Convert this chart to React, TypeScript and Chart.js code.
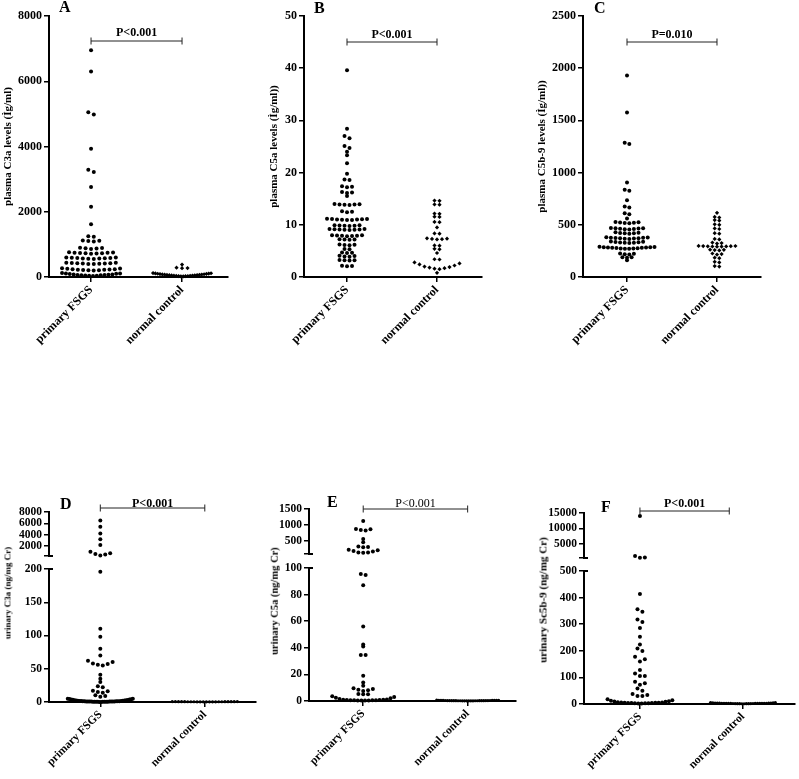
import React, { useEffect, useRef } from 'react';
import { Chart, registerables } from 'chart.js';

Chart.register(...registerables);

const FONT = '"Liberation Serif", "Times New Roman", Times, serif';
const CATEGORIES = ['primary FSGS', 'normal control'];

// ---- Panel A: plasma C3a ----
const A_PRIMARY = [6950, 6300, 5050, 4980, 3930, 3290, 3220, 2760, 2150, 1620,
  1230, 1250, 1090, 1100, 1110, 1120, 860, 870, 880, 890, 900,
  715, 720, 725, 730, 735, 740, 745, 750, 755,
  555, 560, 565, 570, 575, 580, 585, 590, 595, 600,
  395, 400, 405, 410, 415, 420, 425, 430, 435, 440,
  200, 205, 210, 215, 220, 225, 230, 235, 240, 250, 260, 270,
  30, 35, 40, 45, 50, 55, 60, 65, 70, 75, 80, 90, 100, 105, 110, 120];
const A_CONTROL = [380, 270, 275, 285,
  20, 22, 25, 28, 30, 33, 36, 40, 44, 48, 52, 56, 60, 64, 68, 72, 76, 80, 85, 90, 95, 100, 105, 110, 115, 120];
const A_TICKS = [0, 2000, 4000, 6000, 8000];

// ---- Panel B: plasma C5a ----
const B_PRIMARY = [39.6, 28.4, 26.6, 27.0, 24.7, 25.1, 24.0, 23.3, 21.8, 19.8, 18.6, 18.7,
  17.2, 17.3, 17.4, 16.1, 16.2, 16.3, 15.5,
  13.8, 13.85, 13.9, 13.9, 13.95, 14.0, 12.4, 12.5, 12.6,
  10.9, 10.9, 10.95, 11.0, 11.0, 11.05, 11.1, 11.1, 11.15,
  9.75, 9.8, 9.8, 9.85, 9.9, 9.9,
  9.0, 9.05, 9.05, 9.1, 9.1, 9.15, 9.2, 9.2,
  7.8, 7.85, 7.9, 7.9, 7.95, 8.0, 8.0, 7.15, 7.2, 7.2, 7.25,
  6.1, 6.15, 6.2, 6.25, 5.3, 5.35, 4.6, 4.65, 4.7, 3.9, 3.95, 4.0, 4.05,
  3.15, 3.2, 3.2, 3.25, 2.05, 2.1, 2.15];
const B_CONTROL = [14.6, 14.65, 13.85, 13.9, 12.1, 12.15, 11.5, 11.55, 10.5, 10.55, 9.5,
  8.3, 8.35, 7.2, 7.25, 7.3, 7.35, 7.4, 6.0, 6.05, 5.3, 5.4, 4.6, 3.35, 3.4,
  1.5, 1.6, 1.7, 1.8, 1.9, 2.0, 2.2, 2.4, 2.6, 2.8, 0.8];
const B_TICKS = [0, 10, 20, 30, 40, 50];

// ---- Panel C: plasma C5b-9 ----
const C_PRIMARY = [1930, 1575, 1275, 1285, 905, 825, 835, 735, 665, 675, 600, 610, 560,
  515, 518, 520, 522, 525, 528,
  455, 458, 460, 462, 464, 466, 468, 470,
  415, 418, 420, 422, 425, 428,
  365, 367, 369, 370, 371, 373, 375, 377, 379, 381,
  325, 327, 329, 331, 333, 335, 337, 339,
  270, 271, 273, 274, 276, 277, 279, 280, 282, 283, 285, 286, 288, 290,
  215, 218, 222, 225, 185, 188, 190, 160];
const C_CONTROL = [615, 570, 575, 540, 545, 500, 505, 460, 465, 415, 420, 360, 365,
  320, 325, 330, 290, 291, 292, 293, 294, 295, 296, 297, 298,
  255, 258, 260, 262, 215, 220, 225, 180, 185, 140, 145, 100, 105];
const C_TICKS = [0, 500, 1000, 1500, 2000, 2500];

// ---- Panel D: urinary C3a (broken axis) ----
const D_PRIMARY = [6500, 5400, 4200, 3190, 2130, 300, 450, 550, 700, 950,
  196, 110, 98, 80, 70, 55, 56, 57, 58, 60, 62, 41, 35, 30, 22, 23.5,
  14, 15, 16, 17, 8, 9, 10,
  0.1, 0.1, 0.2, 0.2, 0.3, 0.3, 0.4, 0.4, 0.5, 0.5, 0.6, 0.6, 0.7, 0.7, 0.8, 0.8,
  0.9, 0.9, 1.0, 1.0, 1.1, 1.2, 1.3, 1.4, 1.5, 1.6, 1.8, 2.0, 2.2, 2.4, 2.6, 2.8,
  3.0, 3.3, 3.6, 3.9, 4.2, 4.5, 4.8, 5.0];
const D_CONTROL = [0.2, 0.2, 0.25, 0.25, 0.3, 0.3, 0.3, 0.35, 0.35, 0.4, 0.4,
  0.4, 0.45, 0.45, 0.5, 0.5, 0.5, 0.55, 0.55, 0.6, 0.6, 0.6];
const D_UPPER_TICKS = [200, 2000, 4000, 6000, 8000];
const D_LOWER_TICKS = [0, 50, 100, 150, 200];

// ---- Panel E: urinary C5a (broken axis) ----
const E_PRIMARY = [1130, 830, 845, 870, 880, 570, 465, 310, 320, 330,
  140, 145, 150, 180, 195, 220, 235,
  94.8, 95.5, 87, 56, 41, 42.5, 34.5, 34.5, 19, 14, 11.5,
  7.5, 8, 8.5, 9, 9.5, 5, 5, 5.2,
  0.3, 0.3, 0.4, 0.4, 0.5, 0.5, 0.6, 0.6, 0.7, 0.8, 0.9, 1.0, 1.2, 1.5, 2.0, 2.5, 3.0, 3.5];
const E_CONTROL = [0.1, 0.1, 0.12, 0.12, 0.15, 0.15, 0.18, 0.18, 0.2, 0.2, 0.22, 0.22,
  0.25, 0.25, 0.28, 0.28, 0.3, 0.3, 0.33, 0.33, 0.36, 0.36, 0.4, 0.4, 0.45, 0.45,
  0.5, 0.5, 0.55, 0.6];
const E_UPPER_TICKS = [100, 500, 1000, 1500];
const E_LOWER_TICKS = [0, 20, 40, 60, 80, 100];

// ---- Panel F: urinary Sc5b-9 (broken axis) ----
const F_PRIMARY = [14030, 600, 650, 1150,
  414, 347, 356, 308, 318, 286, 253, 224, 199, 209, 160, 168, 178, 128,
  105, 105, 115, 72, 78, 84, 50, 58, 30, 30, 34, 38,
  2, 2, 2.5, 3, 3, 3.5, 4, 4, 4.5, 5, 5, 6, 6, 7, 8, 9, 10, 12, 14, 18];
const F_CONTROL = [1, 1, 1.2, 1.2, 1.4, 1.4, 1.6, 1.6, 1.8, 1.8, 2, 2, 2, 2.2, 2.2,
  2.4, 2.4, 2.6, 2.6, 2.8, 2.8, 3, 3, 3.2, 3.5, 3.8, 4, 4.5, 5, 5.5];
const F_UPPER_TICKS = [500, 5000, 10000, 15000];
const F_LOWER_TICKS = [0, 100, 200, 300, 400, 500];

type Seg = {
  yMin: number; yMax: number; ticks: number[]; hideMin?: boolean;
  lo: number; hi: number; plotTop: number; plotBottom: number; gap: number; showX: boolean;
};
type Panel = {
  letter: string; left: number; top: number; width: number; height: number;
  plotLeft: number; plotRight: number; padLeft: number; xMin: number; xMax: number;
  primary: number[]; control: number[]; controlStyle: string; controlRadius: number;
  segs: Seg[]; title: string; htmlTitle?: { x: number; y: number; size: number };
  tickSize: number; letterX: number; letterBase: number;
  pText: string; pBold: boolean; pBase: number; bracketY: number; bracketTo: number;
  dx: number; maxW: number;
};

// GraphPad-style dot plot: values closer than `gap` share a row, spread horizontally
function swarm(values: number[], center: number, gap: number, dxPx: number, maxWPx: number, pxPerX: number) {
  const sorted = [...values].sort((a, b) => a - b);
  const rows: number[][] = [];
  let cur: number[] = [];
  for (const v of sorted) {
    if (cur.length && v - cur[cur.length - 1] >= gap) { rows.push(cur); cur = []; }
    cur.push(v);
  }
  if (cur.length) rows.push(cur);
  const pts: { x: number; y: number }[] = [];
  for (const row of rows) {
    const n = row.length;
    const step = n > 1 ? Math.min(dxPx, maxWPx / (n - 1)) : 0;
    const slots = Array.from({ length: n }, (_, k) => (k - (n - 1) / 2) * step);
    slots.sort((a, b) => Math.abs(a) - Math.abs(b) || b - a);
    row.forEach((v, i) => pts.push({ x: center + slots[i] / pxPerX, y: v }));
  }
  return pts;
}

const PANELS: Panel[] = [
  {
    letter: 'A', left: 0, top: 0, width: 260, height: 390, plotLeft: 49, plotRight: 228, padLeft: 0,
    xMin: 0.538, xMax: 2.505, primary: A_PRIMARY, control: A_CONTROL, controlStyle: 'rectRot', controlRadius: 2.1,
    segs: [{ yMin: 0, yMax: 8000, ticks: A_TICKS, lo: -Infinity, hi: Infinity, plotTop: 16, plotBottom: 277, gap: 80, showX: true }],
    title: 'plasma C3a levels (Ìg/ml)', tickSize: 12, letterX: 59, letterBase: 12,
    pText: 'P<0.001', pBold: true, pBase: 36, bracketY: 41, bracketTo: 2, dx: 5.5, maxW: 58,
  },
  {
    letter: 'B', left: 260, top: 0, width: 260, height: 390, plotLeft: 304, plotRight: 482, padLeft: 6,
    xMin: 0.522, xMax: 2.5, primary: B_PRIMARY, control: B_CONTROL, controlStyle: 'rectRot', controlRadius: 2.1,
    segs: [{ yMin: 0, yMax: 50, ticks: B_TICKS, lo: -Infinity, hi: Infinity, plotTop: 16, plotBottom: 277, gap: 0.5, showX: true }],
    title: 'plasma C5a levels (Ìg/ml))', tickSize: 12, letterX: 314, letterBase: 13,
    pText: 'P<0.001', pBold: true, pBase: 38, bracketY: 42, bracketTo: 2, dx: 5, maxW: 45,
  },
  {
    letter: 'C', left: 520, top: 0, width: 279, height: 390, plotLeft: 583, plotRight: 761, padLeft: 14,
    xMin: 0.511, xMax: 2.489, primary: C_PRIMARY, control: C_CONTROL, controlStyle: 'rectRot', controlRadius: 2.1,
    segs: [{ yMin: 0, yMax: 2500, ticks: C_TICKS, lo: -Infinity, hi: Infinity, plotTop: 16, plotBottom: 277, gap: 20, showX: true }],
    title: 'plasma C5b-9 levels (Ìg/ml))', tickSize: 12, letterX: 594, letterBase: 13,
    pText: 'P=0.010', pBold: true, pBase: 38, bracketY: 42, bracketTo: 2, dx: 4.6, maxW: 55,
  },
  {
    letter: 'D', left: 0, top: 390, width: 260, height: 389, plotLeft: 49, plotRight: 259, padLeft: 0,
    xMin: 0.509, xMax: 2.49, primary: D_PRIMARY, control: D_CONTROL, controlStyle: 'circle', controlRadius: 1.6,
    segs: [
      { yMin: 200, yMax: 8000, ticks: D_UPPER_TICKS, hideMin: true, lo: 200, hi: Infinity, plotTop: 512, plotBottom: 556, gap: 400, showX: false },
      { yMin: 0, yMax: 200, ticks: D_LOWER_TICKS, lo: -Infinity, hi: 200, plotTop: 569, plotBottom: 702, gap: 2.5, showX: true },
    ],
    title: 'urinary C3a (ng/mg Cr)', htmlTitle: { x: 8, y: 593, size: 9 }, tickSize: 11.5, letterX: 60, letterBase: 509,
    pText: 'P<0.001', pBold: true, pBase: 507, bracketY: 508, bracketTo: 2, dx: 5, maxW: 66,
  },
  {
    letter: 'E', left: 260, top: 390, width: 260, height: 389, plotLeft: 309, plotRight: 523, padLeft: 0,
    xMin: 0.481, xMax: 2.463, primary: E_PRIMARY, control: E_CONTROL, controlStyle: 'circle', controlRadius: 1.6,
    segs: [
      { yMin: 100, yMax: 1500, ticks: E_UPPER_TICKS, hideMin: true, lo: 100, hi: Infinity, plotTop: 509, plotBottom: 554, gap: 60, showX: false },
      { yMin: 0, yMax: 100, ticks: E_LOWER_TICKS, lo: -Infinity, hi: 100, plotTop: 568, plotBottom: 701, gap: 1.0, showX: true },
    ],
    title: 'urinary C5a (ng/mg Cr)', htmlTitle: { x: 275, y: 601, size: 10.5 }, tickSize: 11.5, letterX: 327, letterBase: 507,
    pText: 'P<0.001', pBold: false, pBase: 507, bracketY: 509, bracketTo: 2, dx: 5, maxW: 64,
  },
  {
    letter: 'F', left: 520, top: 390, width: 279, height: 389, plotLeft: 584, plotRight: 799, padLeft: 0,
    xMin: 0.457, xMax: 2.505, primary: F_PRIMARY, control: F_CONTROL, controlStyle: 'circle', controlRadius: 1.6,
    segs: [
      { yMin: 500, yMax: 15000, ticks: F_UPPER_TICKS, hideMin: true, lo: 500, hi: Infinity, plotTop: 513, plotBottom: 558, gap: 600, showX: false },
      { yMin: 0, yMax: 500, ticks: F_LOWER_TICKS, lo: -Infinity, hi: 500, plotTop: 571, plotBottom: 704, gap: 12, showX: true },
    ],
    title: 'urinary Sc5b-9 (ng/mg Cr)', htmlTitle: { x: 543, y: 600, size: 11 }, tickSize: 11.5, letterX: 601, letterBase: 512,
    pText: 'P<0.001', pBold: true, pBase: 507, bracketY: 511, bracketTo: 1.867, dx: 5, maxW: 66,
  },
];

const LAYERS = PANELS.flatMap((p) => p.segs.map((seg, idx) => ({ p, seg, idx })));

function makeChart(canvas: HTMLCanvasElement, p: Panel, seg: Seg, segIndex: number) {
  const pxPerX = (p.plotRight - p.plotLeft) / (p.xMax - p.xMin);
  const sel = (arr: number[]) => arr.filter((v) => v > seg.lo && v <= seg.hi);
  const prim = swarm(sel(p.primary), 1, seg.gap, p.dx, p.maxW, pxPerX);
  const ctrl = swarm(sel(p.control), 2, seg.gap, p.dx, p.maxW, pxPerX);
  const isTop = segIndex === 0;
  const isBroken = p.segs.length > 1;
  const yWidth = p.plotLeft - p.left - p.padLeft;
  const xHeight = p.top + p.height - seg.plotBottom;
  const tickFont = { family: FONT, size: p.tickSize, weight: 'bold' as const };

  const overlay = {
    id: 'overlay',
    afterDraw(chart: any) {
      const ctx = chart.ctx as CanvasRenderingContext2D;
      const area = chart.chartArea;
      ctx.save();
      if (isBroken) {
        const yy = isTop ? area.bottom : area.top;
        ctx.strokeStyle = '#000';
        ctx.lineWidth = 2;
        ctx.beginPath();
        ctx.moveTo(area.left - 1, yy);
        ctx.lineTo(area.left + 4, yy);
        ctx.stroke();
      }
      if (isTop) {
        const xs = chart.scales.x;
        const x1 = xs.getPixelForValue(1);
        const x2 = xs.getPixelForValue(p.bracketTo);
        const by = p.bracketY - p.top;
        ctx.strokeStyle = '#222';
        ctx.lineWidth = 1;
        ctx.beginPath();
        ctx.moveTo(x1, by); ctx.lineTo(x2, by);
        ctx.moveTo(x1, by - 3.5); ctx.lineTo(x1, by + 3.5);
        ctx.moveTo(x2, by - 3.5); ctx.lineTo(x2, by + 3.5);
        ctx.stroke();
        ctx.fillStyle = '#000';
        ctx.textAlign = 'center';
        ctx.textBaseline = 'alphabetic';
        ctx.font = `${p.pBold ? 'bold ' : ''}12px ${FONT}`;
        ctx.fillText(p.pText, (x1 + x2) / 2, p.pBase - p.top);
        ctx.textAlign = 'left';
        ctx.font = `bold 16px ${FONT}`;
        ctx.fillText(p.letter, p.letterX - p.left, p.letterBase - p.top);
      }
      ctx.restore();
    },
  };

  const config: any = {
    type: 'scatter',
    data: {
      datasets: [
        { label: CATEGORIES[0], data: prim, pointRadius: 2, pointBackgroundColor: '#000', pointBorderWidth: 0, showLine: false, clip: false },
        { label: CATEGORIES[1], data: ctrl, pointStyle: p.controlStyle, pointRadius: p.controlRadius, pointBackgroundColor: '#000', pointBorderWidth: 0, showLine: false, clip: false },
      ],
    },
    options: {
      responsive: false,
      maintainAspectRatio: false,
      devicePixelRatio: 1,
      animation: false,
      events: [],
      layout: {
        padding: {
          left: p.padLeft,
          top: seg.plotTop - p.top,
          right: p.left + p.width - p.plotRight,
          bottom: seg.showX ? 0 : p.top + p.height - seg.plotBottom,
        },
      },
      plugins: { legend: { display: false }, tooltip: { enabled: false } },
      scales: {
        x: {
          type: 'linear',
          min: p.xMin,
          max: p.xMax,
          display: seg.showX,
          afterBuildTicks: (s: any) => { s.ticks = [{ value: 1 }, { value: 2 }]; },
          afterFit: (s: any) => { if (seg.showX) { s.height = xHeight; s.paddingLeft = 0; s.paddingRight = 0; } },
          ticks: {
            callback: (v: number) => CATEGORIES[Math.round(v) - 1] ?? '',
            minRotation: 45, maxRotation: 45, autoSkip: false,
            font: tickFont, color: '#000', padding: 1,
          },
          grid: { drawOnChartArea: false, drawTicks: true, tickLength: 5, color: '#000', lineWidth: 1.5 },
          border: { display: true, color: '#000', width: 2 },
        },
        y: {
          type: 'linear',
          min: seg.yMin,
          max: seg.yMax,
          afterBuildTicks: (s: any) => { s.ticks = seg.ticks.map((v) => ({ value: v })); },
          afterFit: (s: any) => { s.width = yWidth; s.paddingTop = 0; s.paddingBottom = 0; },
          ticks: {
            callback: (v: number) => (seg.hideMin && v === seg.yMin ? '' : String(v)),
            font: tickFont, color: '#000', padding: 2, autoSkip: false,
          },
          grid: { drawOnChartArea: false, drawTicks: true, tickLength: 5, color: '#000', lineWidth: 1.5 },
          border: { display: true, color: '#000', width: 2 },
          title: {
            display: !p.htmlTitle,
            text: p.title,
            color: '#000',
            font: { family: FONT, size: 11, weight: 'bold' },
            padding: { top: 1.5, bottom: 0 },
          },
        },
      },
    },
    plugins: [overlay],
  };
  return new Chart(canvas, config);
}

export default function App() {
  const refs = useRef<(HTMLCanvasElement | null)[]>([]);
  useEffect(() => {
    const charts: Chart[] = [];
    LAYERS.forEach((l, i) => {
      const c = refs.current[i];
      if (c) charts.push(makeChart(c, l.p, l.seg, l.idx));
    });
    return () => charts.forEach((ch) => ch.destroy());
  }, []);
  return (
    <div style={{ position: 'absolute', left: 0, top: 0, width: 799, height: 779, background: '#fff', overflow: 'hidden' }}>
      {LAYERS.map((l, i) => (
        <canvas
          key={i}
          ref={(el) => { refs.current[i] = el; }}
          width={l.p.width}
          height={l.p.height}
          style={{ position: 'absolute', left: l.p.left, top: l.p.top, width: l.p.width, height: l.p.height }}
        />
      ))}
      {PANELS.filter((p) => p.htmlTitle).map((p) => (
        <div
          key={p.letter}
          style={{
            position: 'absolute', left: p.htmlTitle!.x, top: p.htmlTitle!.y,
            transform: 'translate(-50%, -50%) rotate(-90deg)', whiteSpace: 'nowrap',
            fontFamily: FONT, fontWeight: 'bold', fontSize: p.htmlTitle!.size, lineHeight: 1, color: '#000',
          }}
        >
          {p.title}
        </div>
      ))}
    </div>
  );
}
